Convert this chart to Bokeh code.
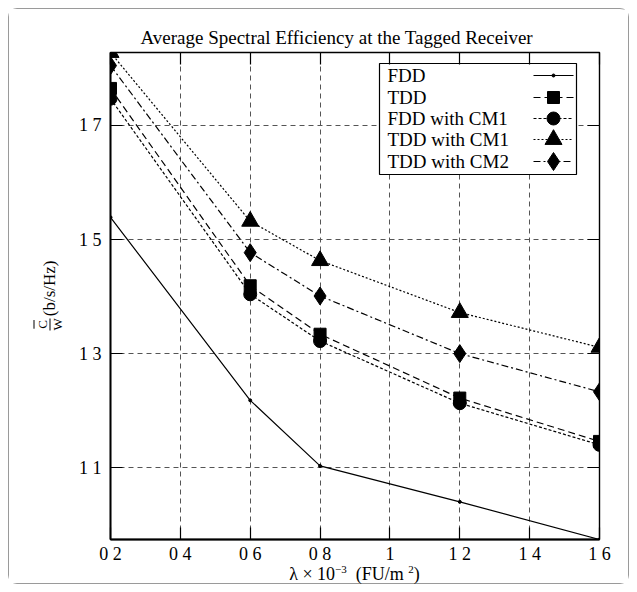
import math
from bokeh.plotting import figure
from bokeh.layouts import row, column
from bokeh.models import (Range1d, FixedTicker, CustomJSTickFormatter, LinearAxis,
                          ColumnDataSource, Div)
from bokeh.core.properties import value
from bokeh.embed import file_html
from bokeh.resources import INLINE

# ---------------- data ----------------
x_vals = [0.2, 0.6, 0.8, 1.2, 1.6]
fdd = [1.539, 1.218, 1.103, 1.040, 0.974]
tdd = [1.765, 1.419, 1.334, 1.222, 1.146]
fdd_cm1 = [1.747, 1.404, 1.322, 1.213, 1.140]
tdd_cm1 = [1.828, 1.532, 1.463, 1.372, 1.311]
tdd_cm2 = [1.805, 1.477, 1.401, 1.300, 1.233]

series_names = ["FDD", "TDD", "FDD with CM1", "TDD with CM1", "TDD with CM2"]

x_ticks = [0.2, 0.4, 0.6, 0.8, 1.0, 1.2, 1.4, 1.6]
x_tick_labels = ["0 2", "0 4", "0 6", "0 8", "1", "1 2", "1 4", "1 6"]
y_ticks = [1.1, 1.3, 1.5, 1.7]
y_tick_labels = ["1 1", "1 3", "1 5", "1 7"]

title_text = "Average Spectral Efficiency at the Tagged Receiver"
x_title_html = "\u03bb \u00d7 10<sup style='font-size:11px'>\u22123</sup>&nbsp; (FU/m <sup style='font-size:11px'>2</sup>)"
y_num, y_den, y_unit = "C", "W", "(b/s/Hz)"

FONT = "Liberation Serif"

# ---------------- layout (page pixels) ----------------
OX, OY = 9, 9            # inside 8px margin + 1px border
DIVW = 54                # width of the y-title strip
XDIVH = 17               # height of the x-title strip
W, H = 619 - DIVW, 574 - XDIVH
FL, FR, FT, FB = 110, 599, 52, 539

all_vals = fdd + tdd + fdd_cm1 + tdd_cm1 + tdd_cm2
X0, X1 = min(x_vals), max(x_vals)
Y0, Y1 = min(all_vals), max(all_vals)


def dx(px):
    return X0 + (px - FL) / (FR - FL) * (X1 - X0)


def dy(py):
    return Y0 + (FB - py) / (FB - FT) * (Y1 - Y0)


p = figure(width=W, height=H, x_range=Range1d(X0, X1), y_range=Range1d(Y0, Y1),
           output_backend="svg", toolbar_location=None,
           min_border_left=FL - OX - DIVW, min_border_right=OX + DIVW + W - FR,
           min_border_top=FT - OY, min_border_bottom=OY + H - FB)
p.background_fill_color = "white"
p.border_fill_color = "white"
p.outline_line_color = "black"
p.outline_line_width = 1.4

# title
p.title.text = title_text
p.title.text_font = FONT
p.title.text_font_size = "19px"
p.title.text_font_style = "normal"
p.title.text_color = "black"
p.title.align = "left"
p.title.offset = 30
p.title.standoff = 9


def make_formatter(tick_vals, tick_labels):
    return CustomJSTickFormatter(args=dict(tv=tick_vals, tl=tick_labels), code="""
        let best = 0;
        for (let i = 0; i < tv.length; i++) {
            if (Math.abs(tv[i] - tick) < Math.abs(tv[best] - tick)) best = i;
        }
        return tl[best];
    """)


xt = FixedTicker(ticks=x_ticks)
yt = FixedTicker(ticks=y_ticks)

for ax, tk, fm in ((p.xaxis[0], xt, make_formatter(x_ticks, x_tick_labels)),
                   (p.yaxis[0], yt, make_formatter(y_ticks, y_tick_labels))):
    ax.ticker = tk
    ax.formatter = fm
    ax.major_tick_in = 12
    ax.major_tick_out = 0
    ax.minor_tick_line_color = None
    ax.major_tick_line_color = "black"
    ax.major_tick_line_width = 1.2
    ax.axis_line_color = "black"
    ax.axis_line_width = 1.8
    ax.major_label_text_font = FONT
    ax.major_label_text_font_size = "18px"
    ax.major_label_text_color = "black"

p.xaxis[0].major_label_standoff = 4
p.yaxis[0].major_label_standoff = 9

for loc, tk in (("above", xt), ("right", yt)):
    ax = LinearAxis(ticker=tk, formatter=make_formatter([0.0], [""]))
    ax.major_tick_in = 12
    ax.major_tick_out = 0
    ax.minor_tick_line_color = None
    ax.major_tick_line_color = "black"
    ax.major_tick_line_width = 1.2
    ax.axis_line_color = None
    ax.major_label_text_font_size = "0px"
    ax.major_label_standoff = 0
    p.add_layout(ax, loc)

p.xgrid.ticker = xt
p.ygrid.ticker = yt
p.grid.grid_line_color = "#555555"
p.grid.grid_line_dash = "5 4"
p.grid.grid_line_width = 1

# ---------------- series ----------------
styles = [
    (fdd, "solid", "circle", 3),
    (tdd, "7 4", "square", 12),
    (fdd_cm1, "3 2", "circle", 13),
    (tdd_cm1, "2 2", "triangle", 17),
    (tdd_cm2, "7 3 2 3", "diamond", 18),
]
for vals, dash, marker, size in styles:
    src = ColumnDataSource(dict(x=x_vals, y=vals))
    p.line("x", "y", source=src, line_color="black", line_width=1.2, line_dash=dash)
    p.scatter("x", "y", source=src, marker=marker, size=size,
              fill_color="black", line_color="black")

# ---------------- legend (text left, sample right, as in the original) ----------------
p.quad(left=[dx(379)], right=[dx(576)], top=[dy(63)], bottom=[dy(174)],
       fill_color="white", line_color="black", line_width=1.2)
row_y = [75, 97, 118, 139, 161]
p.text(x=[dx(387)] * 5, y=[dy(r) for r in row_y], text=series_names,
       text_font=value(FONT), text_font_size="19px", text_color="black",
       text_baseline="middle", text_align="left")
for (vals, dash, marker, size), r in zip(styles, row_y):
    p.line(x=[dx(533), dx(573)], y=[dy(r), dy(r)], line_color="black",
           line_width=1.2, line_dash=dash)
    p.scatter(x=[dx(553)], y=[dy(r)], marker=marker, size=size,
              fill_color="black", line_color="black")

# ---------------- y title (rotated fraction + unit) ----------------
frac = (
    '<span style="display:inline-block;vertical-align:middle;text-align:center;'
    'font-size:13px;line-height:14px;margin-right:2px;">'
    '<span style="display:block;border-bottom:1px solid black;padding:0 1px;">'
    f'<span style="text-decoration:overline;">{y_num}</span></span>'
    f'<span style="display:block;">{y_den}</span></span>'
)
ylab_html = (
    f'<div style="width:{DIVW}px;height:{H}px;display:flex;align-items:center;'
    'justify-content:center;">'
    '<div style="transform:translate(14px, 8px) rotate(-90deg);white-space:nowrap;'
    f'font-family:\'{FONT}\';font-size:17px;color:black;">'
    f'{frac}<span style="vertical-align:middle;">{y_unit}</span></div></div>'
)
ylab = Div(text=ylab_html, width=DIVW, height=H, margin=0,
           styles={"background-color": "white"})

xlab_html = (
    f'<div style="width:619px;height:{XDIVH}px;text-align:center;white-space:nowrap;'
    f'transform:translate(36px, -5px);font-family:\'{FONT}\';font-size:18px;'
    f'line-height:{XDIVH}px;color:black;">{x_title_html}</div>'
)
xlab = Div(text=xlab_html, width=619, height=XDIVH, margin=0,
           styles={"background-color": "white"})

lay = column(row(ylab, p, spacing=0), xlab, spacing=0,
             styles={"margin": "8px", "border": "1px solid #9a9a9a",
                     "border-radius": "9px", "background-color": "white"})

open("out.html", "w").write(file_html(lay, INLINE))
